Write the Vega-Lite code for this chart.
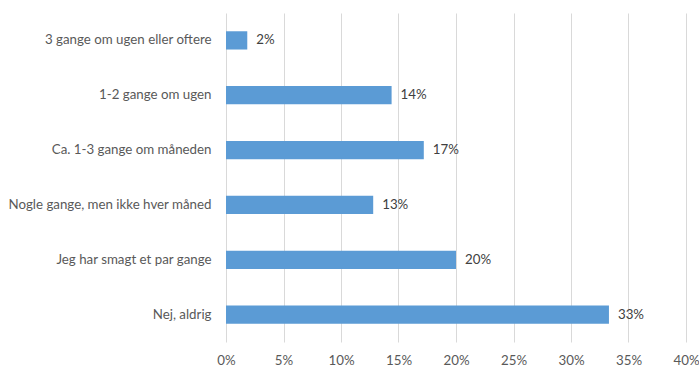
{
  "$schema": "https://vega.github.io/schema/vega-lite/v6.json",
  "width": 460,
  "height": 329,
  "autosize": {"type": "none"},
  "padding": {"left": 226, "top": 13, "right": 13, "bottom": 24},
  "config": {"view": {"stroke": null}, "font": "Lato"},
  "data": {
    "values": [
      {"kategori": "3 gange om ugen eller oftere", "andel": 0.0185},
      {"kategori": "1-2 gange om ugen", "andel": 0.144},
      {"kategori": "Ca. 1-3 gange om måneden", "andel": 0.172},
      {"kategori": "Nogle gange, men ikke hver måned", "andel": 0.128},
      {"kategori": "Jeg har smagt et par gange", "andel": 0.2},
      {"kategori": "Nej, aldrig", "andel": 0.333}
    ]
  },
  "encoding": {
    "y": {
      "field": "kategori",
      "type": "nominal",
      "sort": null,
      "scale": {"paddingInner": 0.667, "paddingOuter": 0.333},
      "axis": {"title": null, "ticks": false, "domain": false, "labelPadding": 15, "labelFontSize": 13.3, "labelColor": "#595959", "labelLimit": 300}
    },
    "x": {
      "field": "andel",
      "type": "quantitative",
      "scale": {"domain": [0, 0.4], "nice": false},
      "axis": {"title": null, "values": [0, 0.05, 0.1, 0.15, 0.2, 0.25, 0.3, 0.35, 0.4], "format": ".0%", "ticks": false, "domain": false, "gridColor": "#d9d9d9", "labelPadding": 11, "labelFontSize": 13.3, "labelColor": "#595959", "labelFlush": false}
    }
  },
  "layer": [
    {"mark": {"type": "bar", "color": "#5b9bd5"}},
    {
      "mark": {"type": "text", "align": "left", "dx": 9, "fontSize": 13.3, "color": "#404040"},
      "encoding": {"text": {"field": "andel", "type": "quantitative", "format": ".0%"}}
    }
  ]
}
